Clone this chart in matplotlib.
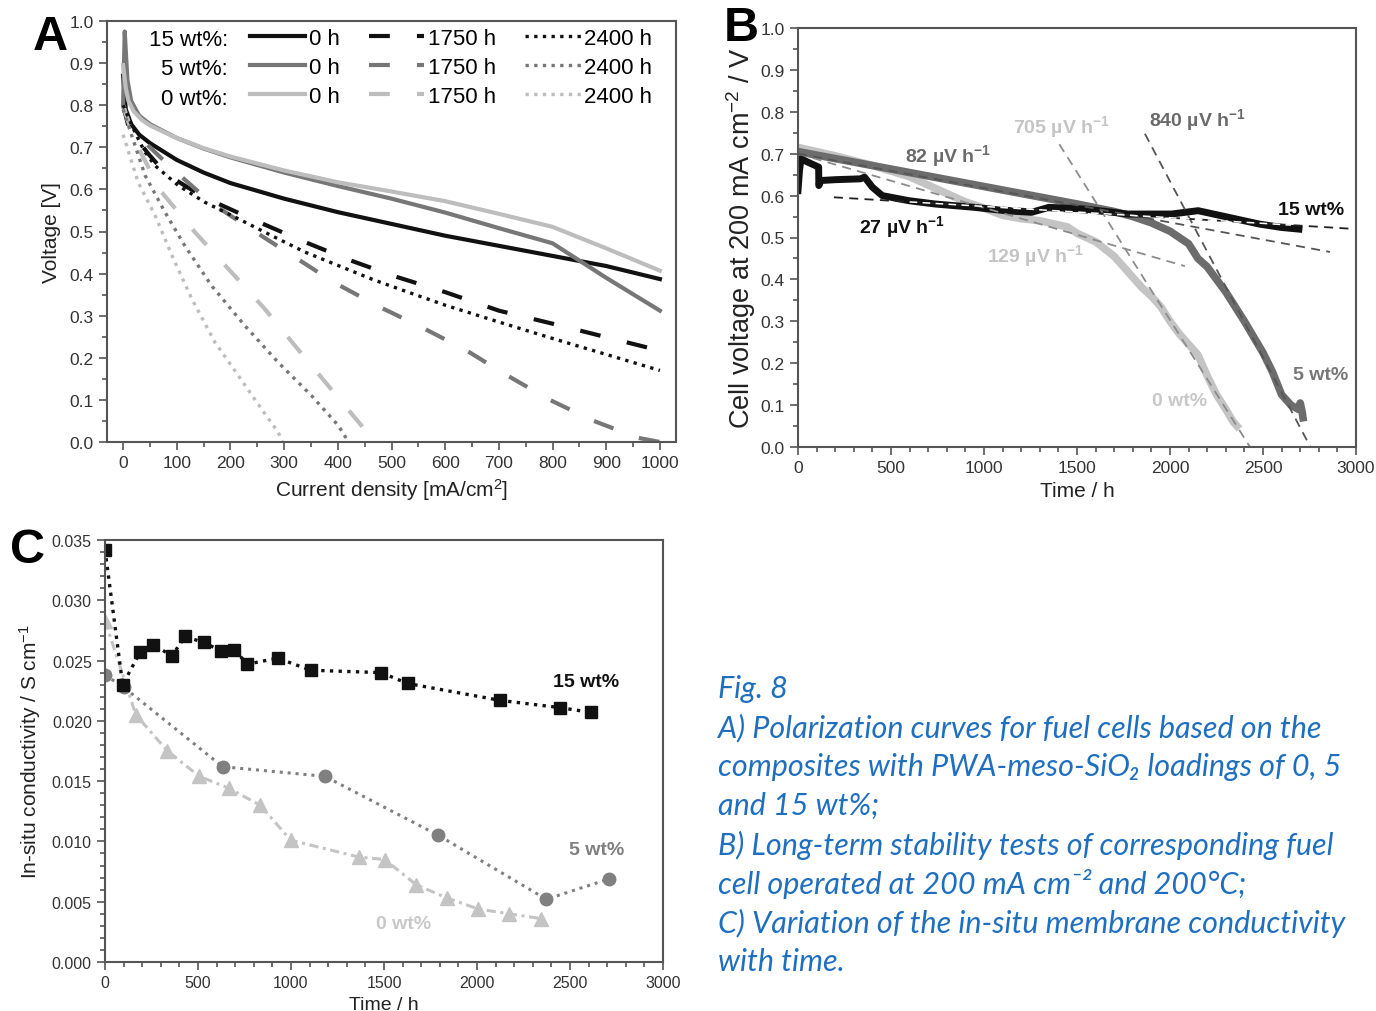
import matplotlib
matplotlib.use("Agg")
import matplotlib.pyplot as plt
from matplotlib.ticker import MultipleLocator, FormatStrFormatter

plt.rcParams['font.family'] = ['Liberation Sans', 'DejaVu Sans']
plt.rcParams['mathtext.fontset'] = 'custom'
plt.rcParams['mathtext.rm'] = 'Liberation Sans'
plt.rcParams['mathtext.it'] = 'Liberation Sans:italic'
plt.rcParams['mathtext.bf'] = 'Liberation Sans:bold'

BLACK = '#111111'
GREY = '#777777'
LIGHT = '#bdbdbd'
TICK = '#333333'

# --- A: polarization curves (current density mA/cm2, voltage V)
j_15_0 = [0, 5, 15, 30, 50, 100, 150, 200, 300, 400, 500, 600, 700, 800, 900, 1000]
v_15_0 = [0.87, 0.79, 0.755, 0.73, 0.71, 0.67, 0.64, 0.615, 0.578, 0.546, 0.518, 0.49, 0.466, 0.442, 0.418, 0.387]
j_5_0 = [0, 3, 8, 15, 30, 50, 100, 150, 200, 300, 400, 500, 600, 700, 800, 900, 1000]
v_5_0 = [0.80, 0.975, 0.86, 0.81, 0.775, 0.755, 0.722, 0.697, 0.676, 0.64, 0.608, 0.578, 0.545, 0.508, 0.472, 0.39, 0.312]
j_0_0 = [0, 5, 10, 20, 35, 50, 100, 150, 200, 300, 400, 500, 600, 700, 800, 900, 1000]
v_0_0 = [0.895, 0.84, 0.81, 0.785, 0.765, 0.752, 0.722, 0.698, 0.678, 0.645, 0.617, 0.595, 0.572, 0.542, 0.511, 0.46, 0.407]

j_15_1750 = [0, 10, 25, 50, 80, 120, 165, 250, 335, 420, 505, 600, 700, 800, 900, 1000]
v_15_1750 = [0.80, 0.75, 0.72, 0.68, 0.637, 0.605, 0.573, 0.524, 0.477, 0.433, 0.394, 0.356, 0.312, 0.281, 0.249, 0.217]
j_5_1750 = [0, 10, 25, 50, 91, 165, 238, 315, 393, 476, 557, 639, 713, 795, 877, 959, 1000]
v_5_1750 = [0.80, 0.76, 0.73, 0.70, 0.65, 0.567, 0.506, 0.443, 0.379, 0.322, 0.272, 0.218, 0.16, 0.10, 0.05, 0.01, 0.0]
j_0_1750 = [0, 20, 40, 72, 134, 202, 264, 320, 382, 444, 462]
v_0_1750 = [0.80, 0.72, 0.67, 0.593, 0.498, 0.403, 0.316, 0.229, 0.134, 0.039, 0.0]

j_15_2400 = [0, 10, 22, 40, 60, 103, 153, 215, 277, 339, 401, 463, 513, 600, 700, 800, 900, 1000]
v_15_2400 = [0.80, 0.77, 0.736, 0.69, 0.656, 0.609, 0.569, 0.53, 0.49, 0.451, 0.419, 0.387, 0.364, 0.325, 0.285, 0.246, 0.208, 0.17]
j_5_2400 = [0, 16, 41, 78, 115, 165, 227, 289, 351, 401, 420]
v_5_2400 = [0.79, 0.728, 0.633, 0.546, 0.466, 0.371, 0.276, 0.189, 0.11, 0.039, 0.0]
j_0_2400 = [0, 28, 60, 91, 128, 171, 215, 258, 289, 297]
v_0_2400 = [0.73, 0.617, 0.537, 0.443, 0.34, 0.237, 0.157, 0.078, 0.023, 0.0]

# --- B: long-term cell voltage at 200 mA cm-2
t_15 = [0, 8, 16, 52, 111, 112, 123, 200, 335, 358, 400, 453, 594, 736, 948, 1113, 1255, 1349, 1538, 1774, 2009, 2151, 2316, 2481, 2599, 2693]
u_15 = [0.612, 0.66, 0.688, 0.68, 0.668, 0.624, 0.636, 0.638, 0.64, 0.644, 0.62, 0.60, 0.588, 0.58, 0.572, 0.564, 0.56, 0.572, 0.568, 0.556, 0.556, 0.564, 0.548, 0.532, 0.524, 0.52]
t_5 = [0, 300, 600, 900, 1200, 1500, 1700, 1800, 1900, 2000, 2100, 2150, 2200, 2300, 2400, 2500, 2550, 2600, 2650, 2690, 2700, 2710, 2715]
u_5 = [0.705, 0.68, 0.655, 0.63, 0.605, 0.58, 0.562, 0.55, 0.535, 0.515, 0.485, 0.45, 0.43, 0.37, 0.30, 0.225, 0.18, 0.125, 0.10, 0.09, 0.105, 0.085, 0.07]
t_0 = [0, 200, 400, 600, 700, 800, 900, 1000, 1100, 1200, 1300, 1400, 1450, 1500, 1600, 1700, 1800, 1850, 1900, 1950, 2000, 2050, 2100, 2150, 2200, 2250, 2300, 2340, 2360]
u_0 = [0.715, 0.695, 0.672, 0.645, 0.625, 0.605, 0.585, 0.57, 0.553, 0.545, 0.54, 0.53, 0.525, 0.51, 0.49, 0.455, 0.405, 0.38, 0.36, 0.335, 0.30, 0.27, 0.245, 0.22, 0.17, 0.125, 0.09, 0.06, 0.05]

# linear degradation fits: (t start, t end, V at t=0 intercept, slope in uV/h)
fit_15 = (193, 2960, 0.6012, 27)
fit_5a = (0, 2860, 0.700, 82)
fit_5b = (1865, 2755, 2.3142, 840)
fit_0a = (0, 2080, 0.700, 129)
fit_0b = (1405, 2430, 1.71315, 705)

# --- C: in-situ conductivity
tc_15 = [0, 95, 189, 260, 360, 431, 530, 625, 696, 765, 928, 1106, 1485, 1627, 2124, 2444, 2614]
s_15 = [0.0342, 0.0230, 0.0257, 0.0263, 0.0254, 0.0270, 0.0265, 0.0258, 0.0259, 0.0247, 0.0252, 0.0242, 0.0240, 0.0231, 0.0217, 0.0211, 0.0207]
tc_5 = [0, 100, 632, 1182, 1793, 2373, 2711]
s_5 = [0.0238, 0.0228, 0.0162, 0.0154, 0.0105, 0.0052, 0.0069]
tc_0 = [0, 166, 336, 507, 668, 834, 999, 1366, 1504, 1674, 1840, 2006, 2171, 2344]
s_0 = [0.0283, 0.0205, 0.0175, 0.0154, 0.0144, 0.0130, 0.0101, 0.0087, 0.0085, 0.0064, 0.0053, 0.0044, 0.0040, 0.0036]

caption = [
    "Fig. 8",
    "A) Polarization curves for fuel cells based on the",
    "composites with PWA-meso-SiO\u2082 loadings of 0, 5",
    "and 15 wt%;",
    "B) Long-term stability tests of corresponding fuel",
    "cell operated at 200 mA cm\u207b\u00b2 and 200\u00b0C;",
    "C) Variation of the in-situ membrane conductivity",
    "with time.",
]

W, H = 1376, 1012
fig = plt.figure(figsize=(W / 100, H / 100), dpi=100)


def box(l, t, r, b):
    return [l / W, 1 - b / H, (r - l) / W, (b - t) / H]


def style(ax):
    for s in ax.spines.values():
        s.set_color('#555555')
        s.set_linewidth(1.5)
    ax.tick_params(which='both', direction='out', colors='#555555', labelcolor=TICK,
                   top=False, right=False, labelsize=12.5, width=1.2)
    ax.tick_params(which='major', length=6)
    ax.tick_params(which='minor', length=3.5)


dash = (0, (5, 6.5))
dot = (0, (1, 1.6))

# ---------------- panel A
axA = fig.add_axes(box(107, 22, 676, 443))
style(axA)
lw = 3.0
l1, = axA.plot(j_15_0, v_15_0, color=BLACK, lw=lw)
l2, = axA.plot(j_5_0, v_5_0, color=GREY, lw=lw)
l3, = axA.plot(j_0_0, v_0_0, color=LIGHT, lw=lw)
l4, = axA.plot(j_15_1750, v_15_1750, color=BLACK, lw=lw, ls=dash)
l5, = axA.plot(j_5_1750, v_5_1750, color=GREY, lw=lw, ls=dash)
l6, = axA.plot(j_0_1750, v_0_1750, color=LIGHT, lw=lw, ls=dash)
l7, = axA.plot(j_15_2400, v_15_2400, color=BLACK, lw=2.4, ls=dot)
l8, = axA.plot(j_5_2400, v_5_2400, color=GREY, lw=2.4, ls=dot)
l9, = axA.plot(j_0_2400, v_0_2400, color=LIGHT, lw=2.4, ls=dot)
axA.set_xlim(-30, 1030)
axA.set_ylim(0, 1.0)
axA.xaxis.set_major_locator(MultipleLocator(100))
axA.xaxis.set_minor_locator(MultipleLocator(50))
axA.yaxis.set_major_locator(MultipleLocator(0.1))
axA.yaxis.set_minor_locator(MultipleLocator(0.05))
axA.yaxis.set_major_formatter(FormatStrFormatter('%.1f'))
axA.set_xlabel('Current density [mA/cm$^2$]', fontsize=15, color='#222222', labelpad=4)
axA.set_ylabel('Voltage [V]', fontsize=15, color='#222222', labelpad=6)
axA.legend([l1, l2, l3, l4, l5, l6, l7, l8, l9],
           ['0 h', '0 h', '0 h', '1750 h', '1750 h', '1750 h', '2400 h', '2400 h', '2400 h'],
           ncol=3, frameon=False, fontsize=16, handlelength=2.5, handletextpad=0.15,
           columnspacing=1.32, labelspacing=0.35, borderpad=0, borderaxespad=0,
           loc='upper left', bbox_to_anchor=(0.251, 0.983))
for yy, lab in zip([0.955, 0.886, 0.817], ['15 wt%:', '5 wt%:', '0 wt%:']):
    axA.text(0.2127, yy, lab, transform=axA.transAxes, ha='right', va='center', fontsize=16)
fig.text(33 / W, 1 - 38 / H, 'A', fontsize=35, fontweight='bold', va='center', ha='left')

# ---------------- panel B
axB = fig.add_axes(box(798, 29, 1356, 448))
style(axB)
axB.plot(t_0, u_0, color='#c4c4c4', lw=5.5, solid_joinstyle='round')
axB.plot(t_5, u_5, color='#6c6c6c', lw=5.5, solid_joinstyle='round')
axB.plot(t_15, u_15, color=BLACK, lw=5, solid_joinstyle='round')
for (ta, tb, v0, k), c in zip([fit_0a, fit_0b, fit_5a, fit_5b, fit_15],
                              ['#8c8c8c', '#8c8c8c', '#555555', '#555555', '#222222']):
    xs = [ta, tb]
    ys = [max(v0 - k * 1e-6 * ta, 0), max(v0 - k * 1e-6 * tb, 0)]
    axB.plot(xs, ys, color=c, lw=1.3, ls=(0, (5, 3.5)))
# the 27 uV/h fit shows up light where it runs over the black trace
ta, tb, v0, k = fit_15
axB.plot([600, 2650], [v0 - k * 1e-6 * 600, v0 - k * 1e-6 * 2650], color='white', lw=1.1, ls=(0, (5, 3.5)))
axB.set_xlim(0, 3000)
axB.set_ylim(0, 1.0)
axB.xaxis.set_major_locator(MultipleLocator(500))
axB.xaxis.set_minor_locator(MultipleLocator(100))
axB.yaxis.set_major_locator(MultipleLocator(0.1))
axB.yaxis.set_minor_locator(MultipleLocator(0.05))
axB.yaxis.set_major_formatter(FormatStrFormatter('%.1f'))
axB.set_xlabel('Time / h', fontsize=15, color='#222222', labelpad=4)
axB.set_ylabel('Cell voltage at 200 mA cm$^{-2}$ / V', fontsize=19.5, color='#222222', labelpad=2)
bkw = dict(fontsize=14, fontweight='bold', ha='center', va='center')
axB.text(807, 0.696, '82 \u00b5V h$^{\\mathbf{-1}}$', color='#6a6a6a', **bkw)
axB.text(1415, 0.767, '705 \u00b5V h$^{\\mathbf{-1}}$', color='#c4c4c4', **bkw)
axB.text(2146, 0.783, '840 \u00b5V h$^{\\mathbf{-1}}$', color='#6a6a6a', **bkw)
axB.text(559, 0.528, '27 \u00b5V h$^{\\mathbf{-1}}$', color=BLACK, **bkw)
axB.text(1278, 0.457, '129 \u00b5V h$^{\\mathbf{-1}}$', color='#c4c4c4', **bkw)
axB.text(2757, 0.568, '15 wt%', color=BLACK, **bkw)
axB.text(2811, 0.174, '5 wt%', color='#777777', **bkw)
axB.text(2050, 0.11, '0 wt%', color='#c8c8c8', **bkw)
fig.text(724 / W, 1 - 29 / H, 'B', fontsize=35, fontweight='bold', va='center', ha='left')

# ---------------- panel C
axC = fig.add_axes(box(105, 541, 663, 963))
style(axC)
axC.plot(tc_0, s_0, color='#c4c4c4', lw=2.2, ls=(0, (3, 1.5, 1, 1.5)),
         marker='^', ms=10, mec='#c4c4c4', mfc='#c4c4c4')
axC.plot(tc_5, s_5, color='#808080', lw=2.2, ls=dot,
         marker='o', ms=9, mec='#808080', mfc='#808080')
axC.plot(tc_15, s_15, color=BLACK, lw=2.4, ls=dot,
         marker='s', ms=9, mec=BLACK, mfc=BLACK)
axC.set_xlim(0, 3000)
axC.set_ylim(0, 0.035)
axC.xaxis.set_major_locator(MultipleLocator(500))
axC.xaxis.set_minor_locator(MultipleLocator(100))
axC.yaxis.set_major_locator(MultipleLocator(0.005))
axC.yaxis.set_minor_locator(MultipleLocator(0.001))
axC.yaxis.set_major_formatter(FormatStrFormatter('%.3f'))
axC.tick_params(labelsize=11.5)
axC.set_xlabel('Time / h', fontsize=14, color='#222222', labelpad=4)
axC.set_ylabel('In-situ conductivity / S cm$^{-1}$', fontsize=15, color='#222222', labelpad=6)
axC.text(2586, 0.0233, '15 wt%', color=BLACK, **bkw)
axC.text(2645, 0.0093, '5 wt%', color='#808080', **bkw)
axC.text(1603, 0.0032, '0 wt%', color='#c8c8c8', **bkw)
fig.text(10 / W, 1 - 551 / H, 'C', fontsize=35, fontweight='bold', va='center', ha='left')

# ---------------- caption
for i, line in enumerate(caption):
    fig.text(718 / W, 1 - (689 + 39 * i) / H, line, fontsize=22, style='italic',
             family=['Lato', 'DejaVu Sans'], color='#1F6FC0', va='center', ha='left')

fig.savefig('out.png', dpi=100)
